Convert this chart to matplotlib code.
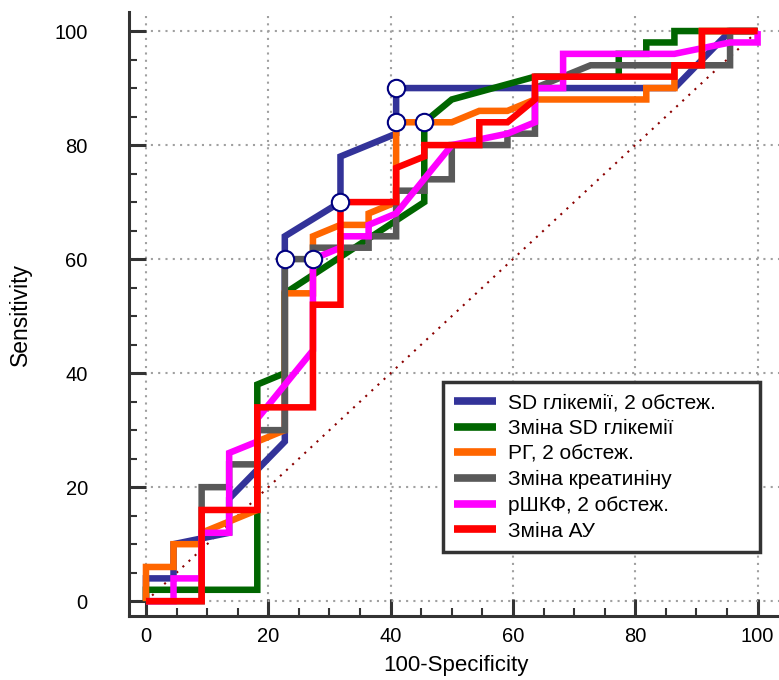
import matplotlib
matplotlib.use("Agg")
import matplotlib.pyplot as plt

plt.rcParams["font.family"] = ["Liberation Sans", "DejaVu Sans"]

# ROC curves (100-Specificity, Sensitivity)
x_sd2 = [0, 0, 4.5, 4.5, 13.6, 13.6, 22.7, 22.7, 31.8, 31.8, 40.9, 40.9, 86.4, 95.5, 100]
y_sd2 = [0, 4, 4, 10, 12, 18, 28, 64, 70, 78, 82, 90, 90, 100, 100]

x_dsd = [0, 0, 18.2, 18.2, 22.7, 22.7, 45.5, 45.5, 50, 63.6, 77.3, 77.3, 81.8, 81.8, 86.4, 86.4, 100]
y_dsd = [0, 2, 2, 38, 40, 54, 70, 84, 88, 92, 92, 96, 96, 98, 98, 100, 100]

x_rg = [0, 0, 4.5, 4.5, 9.1, 9.1, 18.2, 18.2, 22.7, 22.7, 27.3, 27.3, 31.8, 36.4, 36.4, 40.9, 40.9,
        50, 54.5, 59.1, 63.6, 81.8, 81.8, 86.4, 86.4, 90.9, 90.9, 100]
y_rg = [0, 6, 6, 10, 10, 12, 16, 28, 30, 54, 54, 64, 66, 66, 68, 70, 84,
        84, 86, 86, 88, 88, 90, 90, 94, 94, 100, 100]

x_kr = [0, 9.1, 9.1, 13.6, 13.6, 18.2, 18.2, 22.7, 22.7, 27.3, 27.3, 36.4, 36.4, 40.9,
        40.9, 45.5, 45.5, 50, 50, 59.1, 59.1, 63.6, 63.6, 72.7, 95.5, 95.5, 100]
y_kr = [0, 0, 20, 20, 24, 24, 30, 30, 60, 60, 62, 62, 64, 64,
        72, 72, 74, 74, 80, 80, 82, 82, 90, 94, 94, 100, 100]

x_shkf = [0, 4.5, 4.5, 9.1, 9.1, 13.6, 13.6, 18.2, 18.2, 27.3, 27.3, 31.8, 31.8, 36.4, 36.4, 40.9,
          50, 59.1, 63.6, 63.6, 68.2, 68.2, 86.4, 95.5, 100, 100]
y_shkf = [0, 0, 4, 4, 12, 12, 26, 28, 32, 44, 60, 62, 64, 64, 66, 68,
          80, 82, 84, 90, 90, 96, 96, 98, 98, 100]

x_au = [0, 9.1, 9.1, 18.2, 18.2, 27.3, 27.3, 31.8, 31.8, 40.9, 40.9, 45.5, 45.5, 54.5, 54.5, 59.1,
        63.6, 63.6, 86.4, 86.4, 90.9, 90.9, 100]
y_au = [0, 0, 16, 16, 34, 34, 52, 52, 70, 70, 76, 78, 80, 80, 84, 84,
        88, 92, 92, 94, 94, 100, 100]

# optimal cut-off points
x_cut = [22.7, 27.3, 31.8, 40.9, 40.9, 45.5]
y_cut = [60, 60, 70, 84, 90, 84]

curves = [
    (x_sd2, y_sd2, "#333399", "SD глікемії, 2 обстеж."),
    (x_dsd, y_dsd, "#006600", "Зміна SD глікемії"),
    (x_rg, y_rg, "#FF6600", "РГ, 2 обстеж."),
    (x_kr, y_kr, "#595959", "Зміна креатиніну"),
    (x_shkf, y_shkf, "#FF00FF", "рШКФ, 2 обстеж."),
    (x_au, y_au, "#FF0000", "Зміна АУ"),
]

fig = plt.figure(figsize=(7.79, 6.80), dpi=100)
ax = fig.add_axes([0.1662, 0.0941, 0.8338, 0.8879])

ax.grid(True, which="major", color="#a0a0a0", linestyle=(0, (1, 2.5)), linewidth=1.5)
ax.plot([0, 100], [0, 100], color="#8B0000", linestyle=(0, (1, 3)), linewidth=1.5, zorder=2)

for i, (xs, ys, c, lab) in enumerate(curves):
    ax.plot(xs, ys, color=c, linewidth=4.7, label=lab, zorder=3 + i,
            solid_joinstyle="miter", solid_capstyle="butt")

ax.plot(x_cut, y_cut, linestyle="none", marker="o", markersize=12.5,
        markerfacecolor="white", markeredgecolor="#000080", markeredgewidth=1.5, zorder=20)

ax.set_xlim(-2.7, 103.5)
ax.set_ylim(-2.6, 103.3)
ax.set_xticks(range(0, 101, 20))
ax.set_yticks(range(0, 101, 20))
ax.set_xticks(range(0, 101, 5), minor=True)
ax.set_yticks(range(0, 101, 5), minor=True)

for s in ["top", "right"]:
    ax.spines[s].set_visible(False)
for s in ["left", "bottom"]:
    ax.spines[s].set_linewidth(2.2)
    ax.spines[s].set_color("#333333")

ax.tick_params(which="major", direction="in", length=12, width=2.2, color="#333333", labelsize=14.5)
ax.tick_params(which="minor", direction="in", length=6, width=1.5, color="#333333")
ax.tick_params(axis="y", which="major", pad=30)
ax.tick_params(axis="x", which="major", pad=8)

ax.set_xlabel("100-Specificity", fontsize=16)
ax.set_ylabel("Sensitivity", fontsize=16.5)
ax.xaxis.set_label_coords(0.503, -0.064)
ax.yaxis.set_label_coords(-0.150, 0.5)

leg = ax.legend(loc="lower left", bbox_to_anchor=(0.4827, 0.106, 0.488, 0.2), borderaxespad=0,
                mode="expand", fontsize=15, handlelength=2.0, handletextpad=0.55,
                labelspacing=0.32, fancybox=False, framealpha=1, borderpad=0.55)
leg.get_frame().set_edgecolor("#333333")
leg.get_frame().set_linewidth(2.5)
for h in leg.get_lines():
    h.set_linewidth(5.5)
leg.set_zorder(30)

plt.savefig("out.png", dpi=100)
